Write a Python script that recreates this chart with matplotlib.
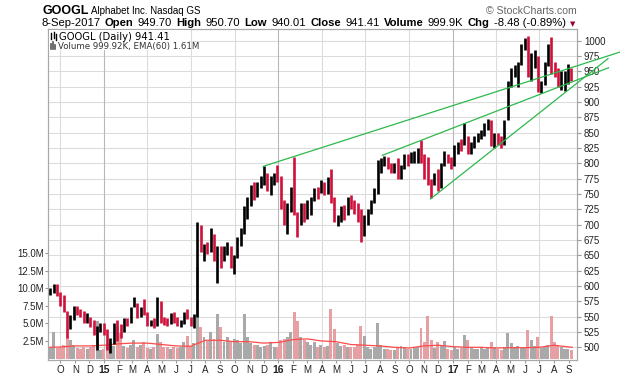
import numpy as np
import pandas as pd
import matplotlib
matplotlib.use("Agg")
import matplotlib.pyplot as plt
import matplotlib.dates as mdates
from matplotlib.patches import Rectangle
from matplotlib.lines import Line2D

W, H = 620, 376

# ---- data -------------------------------------------------------------
first_week = "2014-09-08"   # Monday of first weekly bar, 157 weeks

# weekly high / low / close in USD
high = [
    597, 604, 603, 590, 585, 560, 552, 568, 568, 563, 560, 556, 550, 545, 535, 540, 540,
    530, 515, 540, 545, 538, 548, 548, 565, 582, 572, 565, 578, 558, 545, 547, 582, 576,
    550, 548, 556, 557, 550, 545, 557, 563, 550, 555, 705, 700, 668, 672, 695, 685, 665,
    665, 665, 672, 665, 650, 680, 695, 730, 745, 765, 770, 770, 780, 795, 785, 780, 785, 797,
    780, 740, 735, 762, 811, 720, 735, 735, 740, 745, 760, 762, 773, 770, 778, 790, 745,
    716, 730, 732, 745, 748, 740, 735, 725, 715, 725, 740, 760, 805, 808, 812, 810, 800,
    800, 808, 797, 815, 815, 818, 820, 825, 838, 815, 810, 775, 785, 790, 800, 820, 815, 810,
    830, 835, 840, 865, 845, 835, 845, 850, 855, 865, 872, 870, 850, 850, 845, 870, 935,
    955, 960, 965, 995, 1005, 1008, 980, 985, 975, 935, 965, 995, 1006, 965, 955, 950, 950,
    962, 955,
]
low = [
    585, 588, 583, 568, 558, 515, 530, 545, 553, 549, 540, 540, 533, 520, 496, 525, 520,
    495, 490, 505, 510, 515, 525, 535, 540, 565, 548, 550, 553, 535, 535, 532, 535, 540,
    536, 535, 538, 540, 535, 533, 538, 546, 535, 532, 550, 655, 640, 652, 655, 640, 605,
    630, 640, 650, 630, 620, 645, 665, 685, 710, 730, 740, 745, 760, 765, 755, 748, 765, 770,
    725, 700, 685, 720, 715, 680, 700, 705, 710, 715, 738, 742, 752, 748, 750, 735, 705,
    698, 705, 708, 715, 725, 718, 705, 672, 682, 700, 718, 735, 750, 785, 795, 790, 785,
    784, 775, 775, 790, 795, 800, 800, 800, 800, 775, 765, 743, 765, 755, 760, 795, 800, 790,
    795, 815, 820, 830, 815, 815, 825, 835, 840, 845, 855, 828, 825, 830, 825, 830, 870,
    925, 940, 925, 960, 985, 940, 935, 955, 917, 915, 928, 958, 945, 940, 925, 920, 918,
    930, 935,
]
close = [
    593, 601, 588, 578, 562, 535, 548, 565, 557, 554, 545, 549, 538, 525, 530, 535, 524,
    500, 508, 538, 535, 530, 546, 540, 560, 572, 553, 562, 556, 540, 541, 538, 573, 548,
    545, 539, 552, 546, 538, 541, 550, 549, 543, 552, 699, 658, 664, 660, 685, 644, 660,
    640, 660, 660, 638, 645, 672, 690, 720, 742, 758, 752, 765, 775, 785, 760, 775, 780, 778,
    728, 712, 726, 760, 720, 700, 730, 725, 735, 740, 755, 754, 770, 755, 770, 740, 710,
    712, 726, 722, 740, 735, 728, 710, 690, 710, 720, 736, 755, 792, 800, 802, 797, 790,
    795, 780, 792, 810, 800, 806, 815, 820, 810, 782, 770, 768, 780, 762, 795, 810, 806, 795,
    822, 830, 828, 845, 820, 830, 842, 845, 850, 862, 870, 835, 845, 840, 830, 865, 925,
    950, 955, 960, 993, 1000, 955, 965, 965, 925, 930, 960, 990, 950, 945, 930, 940, 945,
    955, 941,
]

# average daily volume per week, millions
volume = [
    1.6, 3.8, 1.5, 1.7, 2.0, 3.0, 2.6, 2.0, 1.5, 1.4, 1.6, 1.3, 1.7, 2.0, 5.4, 1.2, 1.4,
    2.0, 2.3, 1.8, 4.5, 3.6, 1.8, 1.5, 2.0, 2.6, 1.6, 2.0, 2.4, 1.5, 1.4, 1.6, 3.5, 2.4,
    1.7, 1.6, 1.4, 1.6, 1.5, 1.6, 2.4, 3.2, 1.8, 2.2, 13.0, 4.5, 3.0, 2.5, 3.8, 2.8, 6.4,
    4.5, 2.3, 3.0, 2.5, 2.8, 2.6, 2.2, 6.3, 3.0, 2.2, 2.0, 2.0, 1.6, 1.8, 2.0, 2.4, 1.6, 1.6,
    2.6, 2.8, 3.0, 3.8, 6.6, 5.4, 3.0, 2.6, 2.3, 2.0, 2.3, 1.7, 1.9, 1.6, 1.8, 7.0, 4.2,
    2.2, 1.8, 1.9, 1.6, 1.6, 1.6, 2.0, 4.6, 3.2, 1.6, 1.4, 1.6, 5.1, 2.0, 1.4, 1.3, 1.2,
    1.2, 1.6, 1.8, 1.7, 1.4, 1.3, 1.5, 1.6, 4.4, 2.4, 6.0, 2.6, 1.5, 2.3, 2.0, 2.5, 1.4, 1.2,
    1.6, 1.4, 1.5, 3.4, 2.6, 1.5, 1.4, 1.3, 1.5, 1.4, 1.5, 2.4, 1.6, 1.3, 1.2, 1.7, 3.6,
    2.2, 1.7, 1.8, 1.5, 1.5, 4.0, 2.6, 1.8, 3.1, 1.5, 1.7, 2.0, 6.0, 2.4, 1.8, 1.6, 1.4,
    1.3, 1.2,
]

# EMA(60) of volume, read at each month start (millions)
ema_vol = [
    1.60, 1.65, 1.80, 1.80,
    1.90, 2.10, 2.20, 2.20, 2.00, 1.80, 1.75, 2.60, 2.60, 2.40, 2.40, 2.20,
    2.30, 2.70, 2.80, 2.50, 2.40, 2.00, 1.90, 1.80, 1.60, 1.50, 1.80, 1.90,
    1.70, 1.60, 1.60, 1.50, 1.55, 1.55, 1.60, 1.90, 1.65, 1.61,
]

# green trend lines: start point, a second point on the line, end date
trend_start = [("2015-11-30", 795), ("2016-08-06", 813), ("2016-11-15", 742)]
trend_mid = [("2017-07-04", 940), ("2017-07-04", 913), ("2017-07-04", 884)]
trend_end = ["2017-12-18", "2017-11-23", "2017-11-22"]

price_ticks = list(range(500, 1001, 25))
vol_ticks = [2.5, 5.0, 7.5, 10.0, 12.5, 15.0]
vol_labels = ["2.5M", "5.0M", "7.5M", "10.0M", "12.5M", "15.0M"]

header_pieces = [
    ("8-Sep-2017", False), ("Open", True), ("949.70", False), ("High", True),
    ("950.70", False), ("Low", True), ("940.01", False), ("Close", True),
    ("941.41", False), ("Volume", True), ("999.9K", False), ("Chg", True),
    ("-8.48 (-0.89%)", False),
]

UP = "#000000"
DOWN = "#d0103a"
VOL_UP = "#a9a9a9"
VOL_DOWN = "#e6a0a4"
GRID = "#dcdcdc"
FONT = "Liberation Sans"


def fx(x):
    return x / W


def fy(y):
    return 1 - y / H


def draw_chart(fig):
    weeks = pd.date_range(first_week, periods=len(close), freq="W-MON")
    mid = weeks + pd.Timedelta(days=2)
    up = [True] + [close[i] >= close[i - 1] for i in range(1, len(close))]

    ax_v = fig.add_axes([fx(48), 1 - 360 / H, 529 / W, 331 / H])
    ax = ax_v.twinx()

    xmin, xmax = pd.Timestamp("2014-09-05"), pd.Timestamp("2017-09-18")
    ax_v.set_xlim(xmin, xmax)
    ax_v.set_ylim(-0.2, 46.8)
    ax.set_ylim(479.3, 1019.0)

    # grid: horizontal at price ticks, vertical every quarter, year lines darker
    lo, hi = ax.get_ylim()
    for p in price_ticks:
        f = (p - lo) / (hi - lo)
        ax_v.plot([0, 1], [f, f], transform=ax_v.transAxes, color=GRID, lw=0.8, zorder=0)
    for d in pd.date_range("2014-10-01", "2017-07-01", freq="QS-JAN"):
        c = "#b8b8b8" if d.month == 1 else GRID
        ax_v.axvline(d, color=c, lw=0.8, zorder=0)

    # volume bars and EMA
    ax_v.bar(mid, volume, width=6.2, color=[VOL_UP if u else VOL_DOWN for u in up],
             linewidth=0, zorder=1)
    ema_dates = ([pd.Timestamp("2014-09-08")] +
                 list(pd.date_range("2014-10-01", "2017-09-01", freq="MS")) +
                 [pd.Timestamp("2017-09-08")])
    ax_v.plot(ema_dates, ema_vol, color="#ff4a4a", lw=0.9, zorder=2)

    # price bars
    ax.vlines(mid, low, high, colors=[UP if u else DOWN for u in up], lw=1.9, zorder=3)

    # trend lines (run past the right axis like the original)
    for (d0, p0), (d1, p1), de in zip(trend_start, trend_mid, trend_end):
        x0, x1, xe = mdates.date2num([pd.Timestamp(d0), pd.Timestamp(d1), pd.Timestamp(de)])
        pe = p0 + (p1 - p0) * (xe - x0) / (x1 - x0)
        ax.plot([x0, xe], [p0, pe], color="#2db84d", lw=0.9, clip_on=False, zorder=4)

    # axes styling
    ax.set_yticks(price_ticks)
    ax.set_yticklabels([str(p) for p in price_ticks])
    ax.tick_params(axis="y", direction="out", length=3, width=0.8, color="#999999",
                   labelsize=7, labelcolor="#222222", pad=2)
    ax_v.set_yticks(vol_ticks)
    ax_v.set_yticklabels(vol_labels)
    ax_v.tick_params(axis="y", direction="out", length=2, width=0.8, color="#999999",
                     labelsize=7, labelcolor="#222222", pad=1)

    months = pd.date_range("2014-10-01", "2017-09-01", freq="MS")
    labels = [f"{d.year % 100}" if d.month == 1 else d.strftime("%b")[0] for d in months]
    ax_v.set_xticks(months)
    ax_v.set_xticklabels(labels)
    ax_v.tick_params(axis="x", direction="out", length=2, color="#999999",
                     labelsize=7, labelcolor="#222222", pad=1.5)
    for d, t in zip(months, ax_v.get_xticklabels()):
        t.set_fontfamily(FONT)
        if d.month == 1:
            t.set_fontweight("bold")
            t.set_fontsize(7.5)
    for t in ax.get_yticklabels() + ax_v.get_yticklabels():
        t.set_fontfamily(FONT)

    for a in (ax, ax_v):
        for s in a.spines.values():
            s.set_color("#a8a8a8")
            s.set_linewidth(0.8)
    return ax, ax_v


def draw_header(fig):
    renderer = fig.canvas.get_renderer()
    t = fig.text(fx(42), fy(14.5), "GOOGL", family=FONT, fontsize=9, fontweight="bold",
                 va="baseline")
    x = 42 + t.get_window_extent(renderer).width + 3
    fig.text(fx(x), fy(14.5), "Alphabet Inc. Nasdaq GS", family=FONT, fontsize=7,
             va="baseline")
    fig.text(fx(577), fy(14.5), "\u00a9 StockCharts.com", family=FONT, fontsize=7.6,
             color="#666666", va="baseline", ha="right")

    x = 41
    for txt, bold in header_pieces:
        t = fig.text(fx(x), fy(26), txt, family=FONT, fontsize=8.1,
                     fontweight="bold" if bold else "normal", va="baseline")
        x += t.get_window_extent(renderer).width + 4.3
    fig.text(fx(x), fy(26), "\u25bc", family="DejaVu Sans", fontsize=5,
             color="#a00030", va="baseline")


def draw_legend(fig):
    fig.add_artist(Rectangle((fx(49), fy(50)), 140 / W, 20.5 / H, transform=fig.transFigure,
                             facecolor="white", edgecolor="none", zorder=1))
    # tiny bar glyph and volume glyph
    for xs, y0, y1 in [(51, 33, 39), (53.5, 32, 38), (56, 33.5, 39.5)]:
        fig.add_artist(Line2D([fx(xs), fx(xs)], [fy(y0), fy(y1)], color="black", lw=1,
                              transform=fig.transFigure, zorder=2))
    for xs, y0 in [(51, 44), (53, 42), (55, 45)]:
        fig.add_artist(Line2D([fx(xs), fx(xs)], [fy(y0), fy(49)], color="#555555", lw=1.2,
                              transform=fig.transFigure, zorder=2))
    fig.text(fx(59), fy(39.5), "GOOGL (Daily) 941.41", family="DejaVu Sans", fontsize=7.2,
             va="baseline")
    fig.text(fx(58), fy(49), "Volume 999.92K, EMA(60) 1.61M", family="DejaVu Sans",
             fontsize=6.2, color="#333333", va="baseline")


if __name__ == "__main__":
    fig = plt.figure(figsize=(W / 100, H / 100), dpi=100, facecolor="white")
    draw_chart(fig)
    draw_header(fig)
    draw_legend(fig)
    fig.savefig("out.png", dpi=100, facecolor="white")
    plt.close(fig)
